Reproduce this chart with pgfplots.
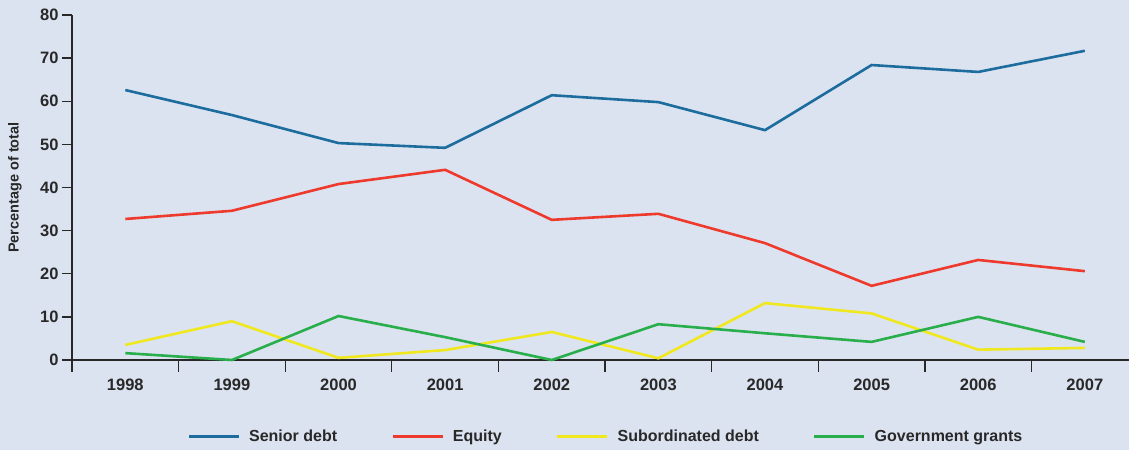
\documentclass[border=0pt]{standalone}
\usepackage{pgfplots}
\pgfplotsset{compat=1.18}
\usepackage{fontspec}
\setmainfont{Liberation Sans}
\definecolor{bg}{RGB}{220,227,240}
\definecolor{axcol}{RGB}{40,40,40}
\definecolor{senior}{RGB}{28,108,158}
\definecolor{equity}{RGB}{238,58,44}
\definecolor{subord}{RGB}{240,232,30}
\definecolor{gov}{RGB}{40,174,74}
\begin{document}
\begin{tikzpicture}
\fill[bg] (-72pt,-90pt) rectangle (1057pt,360pt);
\useasboundingbox (-72pt,-90pt) rectangle (1057pt,360pt);
\begin{axis}[
  at={(0,0)}, anchor=south west,
  scale only axis, width=1057pt, height=345pt,
  xmin=-0.5, xmax=9.415, ymin=0, ymax=80,
  clip=false,
  axis lines*=left,
  axis line style={axcol, line width=1.3pt},
  tick align=outside,
  xtick={0,...,9},
  xticklabels={1998,1999,2000,2001,2002,2003,2004,2005,2006,2007},
  minor xtick={-0.5,0.5,...,8.5},
  major x tick style={draw=none},
  minor x tick style={axcol, line width=1.3pt},
  minor tick length=12pt,
  major tick length=10pt,
  ytick={0,10,...,80},
  y tick style={axcol, line width=1.3pt},
  ticklabel style={font=\fontsize{16.5}{19}\selectfont\bfseries, text=axcol},
  /pgf/number format/assume math mode=true,
  xticklabel style={yshift=-5pt},
  yticklabel style={xshift=0pt},
  ylabel={Percentage of total},
  ylabel style={at={(axis description cs:0,0.5)}, anchor=center, yshift=57pt, font=\fontsize{14.5}{16}\selectfont\bfseries, text=axcol},
  legend style={at={(0.505,-0.223)}, anchor=center, draw=none, fill=none,
    legend columns=4, font=\fontsize{16}{19}\selectfont\bfseries, text=axcol,
    /tikz/every even column/.append style={column sep=52pt}},
  legend cell align=left,
  legend image code/.code={\draw[#1, line width=3pt] (0pt,0pt) -- (50pt,0pt); \path (57pt,0pt);},
  every axis plot/.append style={line width=2.6pt, mark=none, line join=miter},
]
\addplot[senior] coordinates {(0,62.6) (1,56.8) (2,50.3) (3,49.2) (4,61.4) (5,59.8) (6,53.3) (7,68.4) (8,66.8) (9,71.7)};
\addlegendentry{Senior debt}
\addplot[equity] coordinates {(0,32.7) (1,34.6) (2,40.8) (3,44.1) (4,32.5) (5,33.9) (6,27.1) (7,17.2) (8,23.2) (9,20.6)};
\addlegendentry{Equity}
\addplot[subord] coordinates {(0,3.5) (1,9.0) (2,0.5) (3,2.3) (4,6.5) (5,0.4) (6,13.2) (7,10.8) (8,2.4) (9,2.8)};
\addlegendentry{Subordinated debt}
\addplot[gov] coordinates {(0,1.6) (1,0) (2,10.2) (3,5.3) (4,0) (5,8.3) (6,6.2) (7,4.2) (8,10.0) (9,4.2)};
\addlegendentry{Government grants}
\end{axis}
\end{tikzpicture}
\end{document}
